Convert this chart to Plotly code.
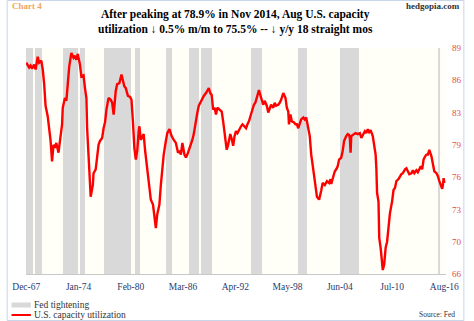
import numpy as np
import pandas as pd
import plotly.graph_objects as go

# U.S. capacity utilization, total industry (%), monthly readings
cu_dates = [
    "1967-12", "1968-04", "1968-06", "1968-08", "1968-11", "1969-01", "1969-04", "1969-06",
    "1969-09", "1969-11", "1970-01", "1970-03", "1970-06", "1970-08", "1970-10", "1970-12",
    "1971-02", "1971-04", "1971-06", "1971-09", "1971-11", "1972-02", "1972-03", "1972-06",
    "1972-08", "1972-10", "1972-12", "1973-03", "1973-06", "1973-08", "1973-10", "1973-12",
    "1974-03", "1974-05", "1974-08", "1974-10", "1974-12", "1975-01", "1975-03", "1975-05",
    "1975-06", "1975-09", "1975-10", "1976-01", "1976-04", "1976-05", "1976-07", "1976-10",
    "1976-12", "1977-02", "1977-04", "1977-07", "1977-10", "1977-12", "1978-02", "1978-05",
    "1978-07", "1978-10", "1979-01", "1979-03", "1979-05", "1979-07", "1979-10", "1980-01",
    "1980-03", "1980-05", "1980-07", "1980-09", "1980-11", "1981-01", "1981-02", "1981-04",
    "1981-06", "1981-08", "1981-10", "1982-01", "1982-03", "1982-05", "1982-06", "1982-09",
    "1982-11", "1983-01", "1983-03", "1983-06", "1983-08", "1983-10", "1983-12", "1984-03",
    "1984-05", "1984-08", "1984-11", "1985-02", "1985-05", "1985-08", "1985-10", "1985-12",
    "1986-02", "1986-05", "1986-07", "1986-09", "1986-11", "1987-02", "1987-04", "1987-06",
    "1987-08", "1987-11", "1988-01", "1988-04", "1988-08", "1988-11", "1989-03", "1989-05",
    "1989-07", "1989-09", "1989-11", "1990-01", "1990-03", "1990-06", "1990-09", "1990-11",
    "1991-02", "1991-04", "1991-06", "1991-09", "1991-11", "1992-01", "1992-03", "1992-05",
    "1992-07", "1992-10", "1992-12", "1993-02", "1993-04", "1993-07", "1993-09", "1993-11",
    "1994-01", "1994-04", "1994-06", "1994-08", "1994-10", "1995-01", "1995-03", "1995-05",
    "1995-07", "1995-09", "1995-12", "1996-02", "1996-04", "1996-06", "1996-09", "1996-11",
    "1997-01", "1997-04", "1997-06", "1997-08", "1997-11", "1998-02", "1998-04", "1998-06",
    "1998-07", "1998-09", "1998-11", "1999-02", "1999-04", "1999-06", "1999-08", "1999-10",
    "1999-12", "2000-03", "2000-05", "2000-07", "2000-09", "2000-12", "2001-02", "2001-05",
    "2001-08", "2001-10", "2002-01", "2002-04", "2002-06", "2002-09", "2002-12", "2003-03",
    "2003-05", "2003-06", "2003-08", "2003-11", "2004-01", "2004-03", "2004-05", "2004-08",
    "2004-10", "2004-12", "2005-03", "2005-05", "2005-07", "2005-08", "2005-09", "2005-10",
    "2006-02", "2006-04", "2006-07", "2006-10", "2006-12", "2007-02", "2007-05", "2007-07",
    "2007-09", "2007-11", "2008-01", "2008-04", "2008-06", "2008-08", "2008-09", "2008-10",
    "2008-12", "2009-01", "2009-03", "2009-05", "2009-06", "2009-08", "2009-10", "2009-12",
    "2010-02", "2010-04", "2010-07", "2010-09", "2010-11", "2011-01", "2011-04", "2011-06",
    "2011-08", "2011-10", "2012-01", "2012-03", "2012-05", "2012-07", "2012-10", "2012-12",
    "2013-02", "2013-05", "2013-07", "2013-09", "2013-11", "2014-01", "2014-03", "2014-05",
    "2014-07", "2014-09", "2014-11", "2015-02", "2015-04", "2015-06", "2015-09", "2015-11",
    "2016-01", "2016-04", "2016-05", "2016-06", "2016-07", "2016-08",
]
cu_values = [
    87.8, 87.3, 87.5, 87.2, 87.6, 87.1, 88.4, 87.8,
    88.0, 87.1, 85.6, 83.4, 82.3, 81.3, 79.8, 77.7,
    79.4, 79.1, 79.6, 78.6, 79.8, 81.5, 83.2, 84.2,
    83.9, 85.9, 87.4, 88.8, 88.3, 88.5, 88.1, 88.7,
    87.6, 86.4, 86.5, 85.2, 84.2, 81.1, 78.4, 75.0,
    74.1, 75.3, 76.5, 76.9, 79.1, 79.4, 79.8, 80.1,
    81.1, 81.7, 83.0, 84.2, 84.0, 83.7, 82.5, 84.9,
    85.6, 85.7, 86.6, 86.1, 85.4, 85.2, 84.4, 84.3,
    84.0, 81.8, 79.1, 77.9, 78.8, 80.8, 81.3, 79.9,
    80.3, 80.5, 78.8, 76.7, 76.0, 74.5, 73.8, 73.3,
    72.1, 70.9, 72.3, 73.3, 75.3, 77.4, 78.4, 79.8,
    80.6, 81.0, 80.3, 79.9, 79.6, 78.6, 78.8, 78.4,
    79.6, 78.4, 78.1, 78.4, 78.8, 79.4, 79.9, 80.5,
    81.5, 82.7, 83.4, 83.9, 84.4, 84.7, 85.2, 84.7,
    84.5, 83.0, 83.2, 82.5, 83.2, 83.0, 82.8, 81.8,
    80.3, 78.9, 79.4, 80.5, 80.0, 79.3, 80.3, 80.8,
    80.6, 81.1, 81.3, 81.5, 81.3, 81.1, 81.5, 81.8,
    82.3, 83.2, 83.5, 83.7, 84.2, 85.0, 84.5, 84.0,
    83.5, 83.9, 83.4, 82.7, 83.2, 83.5, 83.2, 83.7,
    83.4, 83.5, 83.7, 84.0, 84.7, 84.2, 83.2, 82.8,
    81.5, 82.5, 81.8, 81.7, 81.5, 81.5, 81.1, 81.7,
    82.0, 82.2, 82.0, 82.2, 81.5, 80.3, 78.4, 76.5,
    75.2, 74.1, 73.8, 74.7, 75.5, 75.3, 75.7, 75.5,
    75.9, 75.4, 75.9, 76.7, 76.9, 77.2, 77.9, 78.1,
    78.8, 79.8, 80.3, 80.5, 80.4, 80.1, 78.6, 80.3,
    80.5, 80.6, 80.5, 80.6, 80.1, 80.4, 80.8, 80.6,
    81.0, 80.7, 80.9, 80.3, 79.4, 78.4, 77.0, 74.5,
    73.6, 69.9, 68.9, 67.5, 66.6, 67.2, 68.9, 69.5,
    71.1, 72.4, 73.6, 74.8, 75.0, 75.7, 75.9, 76.2,
    76.4, 76.5, 76.9, 77.0, 76.7, 76.4, 76.5, 76.8,
    76.5, 76.8, 76.6, 77.0, 77.2, 76.9, 77.9, 78.2,
    78.4, 78.4, 78.9, 78.2, 77.4, 76.7, 76.5, 76.2,
    75.7, 75.2, 74.9, 75.3, 76.0, 75.5,
]

# Fed tightening episodes (first month, last month)
tight_start = ["1967-12", "1968-12", "1972-03", "1974-03", "1977-01", "1980-08", "1984-03",
               "1986-11", "1988-04", "1994-02", "1999-07", "2004-06", "2015-12"]
tight_end = ["1968-08", "1969-09", "1973-11", "1974-09", "1980-01", "1981-02", "1984-11",
             "1987-12", "1989-06", "1995-04", "2000-07", "2006-08", "2016-01"]

# Axis ticks
x_tick_dates = ["1967-12-01", "1974-01-01", "1980-02-01", "1986-03-01", "1992-04-01",
                "1998-05-01", "2004-06-01", "2010-07-01", "2016-08-01"]
x_tick_labels = ["Dec-67", "Jan-74", "Feb-80", "Mar-86", "Apr-92",
                 "May-98", "Jun-04", "Jul-10", "Aug-16"]
y_min, y_step = 66.2, 3.3
y_tick_labels = ["66", "70", "73", "76", "79", "83", "86", "89"]

y_ticks = np.round(y_min + y_step * np.arange(len(y_tick_labels)), 1)
y_max = float(y_ticks[-1])

SERIF = "Liberation Serif, Times New Roman, serif"
W, H = 474, 321
ML, MR, MT, MB = 20, 19, 48, 47

# Tightening periods as full-height bars spanning each episode
starts = pd.to_datetime(tight_start)
ends = pd.to_datetime(tight_end) + pd.offsets.MonthBegin(1)
centers = starts + (ends - starts) / 2
widths = (ends - starts).total_seconds() * 1000.0

fig = go.Figure()
fig.add_trace(go.Bar(
    x=centers, y=[y_max - y_min] * len(centers), base=y_min, width=widths,
    marker=dict(color="#d9d9d9", line=dict(width=0)),
    name="Fed tightening", showlegend=False, hoverinfo="skip",
))
fig.add_trace(go.Scatter(
    x=pd.to_datetime(cu_dates), y=cu_values, mode="lines",
    line=dict(color="#ff0000", width=2.4),
    name="U.S. capacity utilization", showlegend=False,
))

pw = W - ML - MR
ph = H - MT - MB


def px(xp):
    return (xp - ML) / pw


def py(yp):
    return 1 - (yp - MT) / ph


annotations = [
    dict(text="<b>After peaking at 78.9% in Nov 2014, Aug U.S. capacity<br>"
              "utilization \u2193 0.5% m/m to 75.5% -- \u2193 y/y 18 straight mos</b>",
         x=px(237), y=py(22), xanchor="center", yanchor="middle",
         font=dict(family=SERIF, size=11.5, color="#000000")),
    dict(text="<b>Chart 4</b>", x=px(3), y=py(6), xanchor="left", yanchor="middle",
         font=dict(family=SERIF, size=9, color="#f2a65a")),
    dict(text="<b>hedgopia.com</b>", x=px(472), y=py(6), xanchor="right", yanchor="middle",
         font=dict(family=SERIF, size=9, color="#333333")),
    dict(text="Source: Fed", x=px(466), y=py(314), xanchor="right", yanchor="middle",
         font=dict(family=SERIF, size=7.5, color="#333333")),
    dict(text="Fed tightening", x=px(26), y=py(305), xanchor="left", yanchor="middle",
         font=dict(family=SERIF, size=9.5, color="#333333")),
    dict(text="U.S. capacity utilization", x=px(26), y=py(315), xanchor="left", yanchor="middle",
         font=dict(family=SERIF, size=9.5, color="#333333")),
]
for a in annotations:
    a.update(xref="paper", yref="paper", showarrow=False)

shapes = [
    # legend swatches
    dict(type="rect", x0=px(5), x1=px(25), y0=py(307.5), y1=py(302.5),
         fillcolor="#d9d9d9", line=dict(width=0)),
    dict(type="line", x0=px(5), x1=px(25), y0=py(315), y1=py(315),
         line=dict(color="#ff0000", width=2)),
    # outer frame
    dict(type="rect", x0=px(0.5), x1=px(W - 0.5), y0=py(H - 0.5), y1=py(0.5),
         line=dict(color="#c9d5e8", width=1), fillcolor="rgba(0,0,0,0)", layer="below"),
]
for s in shapes:
    s.update(xref="paper", yref="paper")

fig.update_layout(
    width=W, height=H,
    margin=dict(l=ML, r=MR, t=MT, b=MB, pad=0),
    paper_bgcolor="#ffffff", plot_bgcolor="#fffff8",
    barmode="overlay", bargap=0,
    annotations=annotations, shapes=shapes,
    xaxis=dict(
        type="date", range=["1967-11-20", "2016-10-10"],
        tickvals=x_tick_dates, ticktext=x_tick_labels,
        tickfont=dict(family=SERIF, size=9.5, color="#2b3b6b"),
        showgrid=False, zeroline=False, showline=True, linecolor="#c8c8c8", linewidth=1,
        ticks="", ticklabelstandoff=4,
    ),
    yaxis=dict(
        range=[y_min, y_max], side="right",
        tickvals=y_ticks, ticktext=y_tick_labels,
        tickfont=dict(family=SERIF, size=9, color="#e04a4a"),
        showgrid=False, zeroline=False, showline=False, ticks="", ticklabelstandoff=5,
    ),
)

fig.write_html("out.html")
